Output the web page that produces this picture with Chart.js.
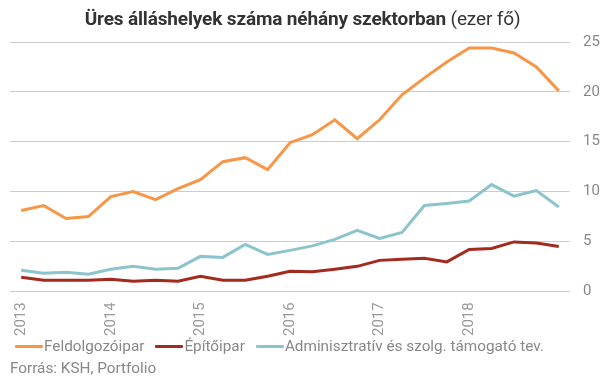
<!DOCTYPE html>
<html>
<head>
<meta charset="utf-8">
<script src="https://cdn.jsdelivr.net/npm/chart.js@4/dist/chart.umd.min.js"></script>
<style>
  html, body { margin: 0; padding: 0; background: #fff; }
  #wrap { position: relative; width: 605px; height: 378px; overflow: hidden; font-family: Roboto, "Noto Sans", sans-serif; }
  #c { position: absolute; left: 0; top: 0; }
  #title { position: absolute; left: 0; width: 605px; top: 7px; text-align: center; font-size: 19px; color: #333; white-space: nowrap; letter-spacing: -0.15px; }
  #title b { font-weight: 700; }
  #legend { position: absolute; left: 15px; top: 337px; display: flex; align-items: center; font-size: 15.3px; color: #888; white-space: nowrap; }
  .item { display: flex; align-items: center; margin-right: 11px; }
  .sw { width: 28px; height: 3px; margin-right: 1px; border-radius: 1px; }
  #src { position: absolute; left: 10px; top: 359px; font-size: 15.3px; color: #888; white-space: nowrap; }
</style>
</head>
<body>
<div id="wrap">
  <canvas id="c" width="605" height="378"></canvas>
  <div id="title"><b>Üres álláshelyek száma néhány szektorban</b> (ezer fő)</div>
  <div id="legend"></div>
  <div id="src">Forrás: KSH, Portfolio</div>
</div>
<script>
const categories = [
  '2013 Q1','2013 Q2','2013 Q3','2013 Q4',
  '2014 Q1','2014 Q2','2014 Q3','2014 Q4',
  '2015 Q1','2015 Q2','2015 Q3','2015 Q4',
  '2016 Q1','2016 Q2','2016 Q3','2016 Q4',
  '2017 Q1','2017 Q2','2017 Q3','2017 Q4',
  '2018 Q1','2018 Q2','2018 Q3','2018 Q4',
  '2019 Q1'
];
const tickLabels = ['2013','','','','2014','','','','2015','','','','2016','','','','2017','','','','2018','','','',''];
const seriesNames = ['Feldolgozóipar', 'Építőipar', 'Adminisztratív és szolg. támogató tev.'];
const feldolgozoipar = [8.1, 8.6, 7.3, 7.5, 9.5, 10.0, 9.2, 10.3, 11.2, 13.0, 13.4, 12.2, 14.9, 15.7, 17.2, 15.3, 17.2, 19.7, 21.4, 23.0, 24.4, 24.4, 23.9, 22.5, 20.1];
const epitoipar = [1.4, 1.1, 1.1, 1.1, 1.2, 1.0, 1.1, 1.0, 1.5, 1.1, 1.1, 1.5, 2.0, 1.95, 2.2, 2.5, 3.1, 3.2, 3.3, 2.95, 4.2, 4.3, 4.95, 4.85, 4.5];
const adminisztrativ = [2.1, 1.8, 1.9, 1.7, 2.2, 2.5, 2.2, 2.3, 3.5, 3.4, 4.7, 3.7, 4.1, 4.55, 5.2, 6.1, 5.3, 5.9, 8.6, 8.8, 9.05, 10.7, 9.55, 10.1, 8.45];
const yTicks = [0, 5, 10, 15, 20, 25];
const colors = ['#F79646', '#A32A1F', '#8CC4CC'];

const data = {
  labels: categories,
  datasets: [
    { label: seriesNames[0], data: feldolgozoipar, borderColor: colors[0], backgroundColor: colors[0] },
    { label: seriesNames[1], data: epitoipar, borderColor: colors[1], backgroundColor: colors[1] },
    { label: seriesNames[2], data: adminisztrativ, borderColor: colors[2], backgroundColor: colors[2] }
  ].map(d => Object.assign(d, { borderWidth: 3, pointRadius: 0, pointHoverRadius: 0, tension: 0, fill: false, borderJoinStyle: 'miter' }))
};

new Chart(document.getElementById('c'), {
  type: 'line',
  data,
  options: {
    responsive: false,
    animation: false,
    devicePixelRatio: 1,
    layout: { padding: { left: 10, right: 5, top: 42, bottom: 31 } },
    plugins: { legend: { display: false }, title: { display: false }, tooltip: { enabled: false } },
    scales: {
      x: {
        offset: true,
        grid: { display: false, drawTicks: false },
        border: { display: false },
        afterFit: s => { s.paddingLeft = 0; s.paddingRight = 0; },
        ticks: {
          autoSkip: false, minRotation: 90, maxRotation: 90, padding: 11,
          color: '#999', font: { family: 'Roboto', size: 15 },
          callback: (v, i) => tickLabels[i]
        }
      },
      y: {
        position: 'right',
        min: yTicks[0], max: yTicks[yTicks.length - 1],
        afterBuildTicks: s => { s.ticks = yTicks.map(v => ({ value: v })); },
        afterFit: s => { s.width = 30; s.paddingTop = 0; s.paddingBottom = 0; },
        grid: { color: '#cccccc', lineWidth: 1, drawTicks: false },
        border: { display: false },
        ticks: { padding: 13, color: '#888', font: { family: 'Roboto', size: 15 } }
      }
    }
  }
});

const leg = document.getElementById('legend');
seriesNames.forEach((n, i) => {
  const it = document.createElement('div'); it.className = 'item';
  const sw = document.createElement('span'); sw.className = 'sw'; sw.style.background = colors[i];
  const tx = document.createElement('span'); tx.textContent = n;
  it.appendChild(sw); it.appendChild(tx); leg.appendChild(it);
});
</script>
</body>
</html>
